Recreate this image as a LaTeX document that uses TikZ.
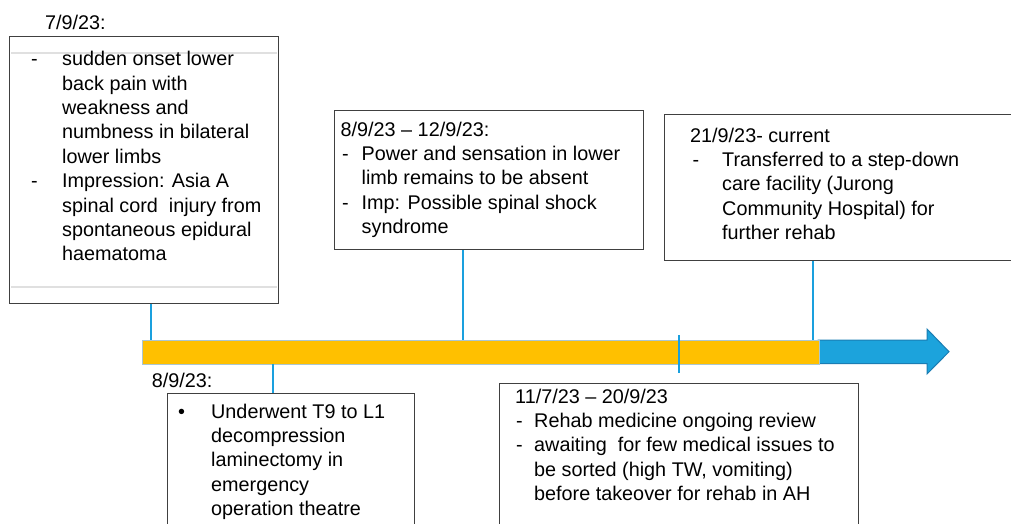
\documentclass[tikz,border=0pt]{standalone}
\usepackage{fontspec}
\setmainfont{Liberation Sans}
\definecolor{barorange}{HTML}{FFC000}
\definecolor{arrowblue}{HTML}{1CA3DC}
\definecolor{arrowedge}{HTML}{1A7DB3}
\definecolor{connblue}{HTML}{1AA0DE}
\definecolor{boxedge}{HTML}{404040}
\tikzset{
  box/.style={draw=boxedge, line width=1.3pt, fill=white, rectangle, inner sep=0pt, anchor=north west},
  txt/.style={inner sep=0pt, anchor=north west, font=\fontsize{19.8}{24.4}\selectfont},
  conn/.style={draw=connblue, line width=2pt},
  faint/.style={draw=black!12, line width=2pt}
}
\begin{document}
\begin{tikzpicture}[x=1pt,y=-1pt]
\useasboundingbox (0,0) rectangle (1011,524);
\clip (0,0) rectangle (1011,524);
\fill[white] (0,0) rectangle (1011,524);

% timeline arrow
\coordinate (ab) at (818,340);
\filldraw[fill=arrowblue, draw=arrowedge, line width=1pt]
  (ab) -- (927,340) -- (927,329) -- (949,351.7) -- (927,374) -- (927,363.5) -- (818,363.5) -- cycle;
\node[fill=barorange, draw=connblue!40!gray!50, line width=0.5pt, minimum width=677, minimum height=23.5, inner sep=0pt, anchor=north west] (bar) at (142,340) {};

% boxes
\node[box, minimum width=269, minimum height=266.5] (b1) at (9,36) {};
\node[box, minimum width=247, minimum height=150] (b2) at (167,393) {};
\node[box, minimum width=309, minimum height=139] (b3) at (334,110) {};
\node[box, minimum width=370, minimum height=146] (b4) at (664,114) {};
\node[box, minimum width=359, minimum height=160] (b5) at (499,383) {};

\draw[faint] ([xshift=2pt,yshift=-17pt]b1.north west) -- ([xshift=-2pt,yshift=-17pt]b1.north east);
\draw[faint] ([xshift=2pt,yshift=17pt]b1.south west) -- ([xshift=-2pt,yshift=17pt]b1.south east);

% connectors
\coordinate (t1) at (151,340);
\coordinate (t2) at (273,363.5);
\coordinate (t3) at (463,340);
\coordinate (t4) at (813,340);
\draw[conn] (b1.south -| t1) -- (t1);
\draw[conn] (t2) -- (b2.north -| t2);
\draw[conn] (b3.south -| t3) -- (t3);
\draw[conn] (b4.south -| t4) -- (t4);
\coordinate (k1) at (679,335);
\coordinate (k2) at (679,373.3);
\draw[conn] (k1) -- (k2);

% labels outside boxes
\node[txt] (l1) at (45,11.9) {\strut 7/9/23:};
\node[txt] (l2) at (151.7,369.9) {\strut 8/9/23:};

% box texts
\node[txt] (x1) at (31,48.4) {\begin{tabular}{@{}p{31pt}@{}l@{}}
-& sudden onset lower\\
 & back pain with\\
 & weakness and\\
 & numbness in bilateral\\
 & lower limbs\\
-& Impression: Asia A\\
 & spinal cord \ injury from\\
 & spontaneous epidural\\
 & haematoma
\end{tabular}};

\node[txt] (x2) at (178,400.9) {\begin{tabular}{@{}p{33pt}@{}l@{}}
\textbullet& Underwent T9 to L1\\
 & decompression\\
 & laminectomy in\\
 & emergency\\
 & operation theatre
\end{tabular}};

\node[txt] (x3) at (340.5,118.9) {\begin{tabular}{@{}p{21pt}@{}l@{}}
\multicolumn{2}{@{}l@{}}{8/9/23 -- 12/9/23:}\\
\hspace*{1.5pt}-& Power and sensation in lower\\
 & limb remains to be absent\\
\hspace*{1.5pt}-& Imp: Possible spinal shock\\
 & syndrome
\end{tabular}};

\node[txt] (x4) at (690,124.9) {\begin{tabular}{@{}p{32pt}@{}l@{}}
\multicolumn{2}{@{}l@{}}{21/9/23- current}\\
\hspace*{2.5pt}-& Transferred to a step-down\\
 & care facility (Jurong\\
 & Community Hospital) for\\
 & further rehab
\end{tabular}};

\node[txt] (x5) at (515,385.9) {\begin{tabular}{@{}p{19pt}@{}l@{}}
\multicolumn{2}{@{}l@{}}{11/7/23 -- 20/9/23}\\
\hspace*{1pt}-& Rehab medicine ongoing review\\
\hspace*{1pt}-& awaiting \ for few medical issues to\\
 & be sorted (high TW, vomiting)\\
 & before takeover for rehab in AH
\end{tabular}};
\end{tikzpicture}
\end{document}
